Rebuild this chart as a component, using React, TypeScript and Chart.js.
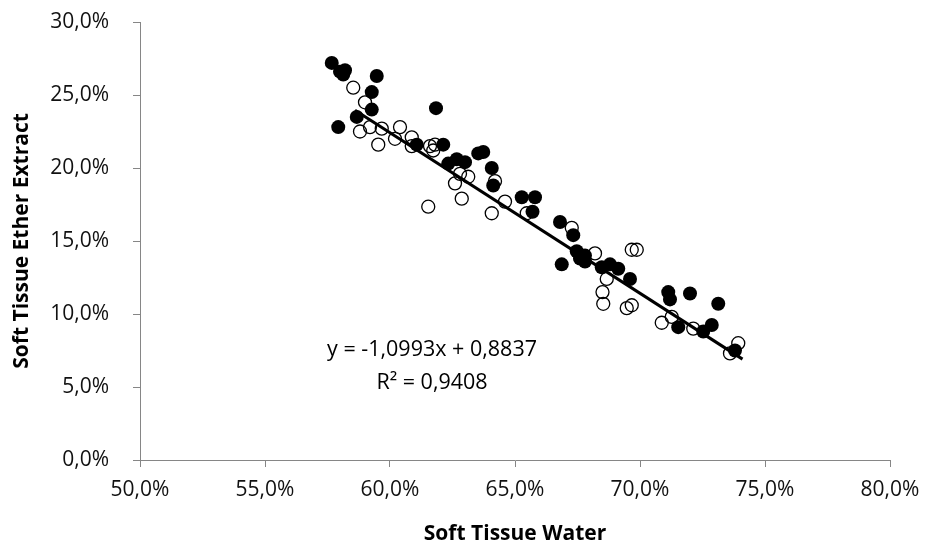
import React, { useEffect, useRef } from "react";
import { Chart, registerables } from "chart.js";
Chart.register(...registerables);

// Filled-circle series (Soft Tissue Water %, Soft Tissue Ether Extract %)
const filledX = [57.67, 58.0, 58.13, 58.2, 59.47, 59.27, 59.27, 61.84, 58.67, 57.93, 61.07, 62.13, 62.33, 62.67, 63.0, 63.53, 63.73, 64.07, 64.13, 65.27, 65.8, 65.7, 66.8, 67.33, 66.87, 67.47, 67.6, 67.8, 67.8, 68.47, 68.8, 69.13, 69.6, 71.13, 71.2, 72.0, 73.13, 71.53, 72.53, 72.87, 73.8];
const filledY = [27.2, 26.6, 26.4, 26.7, 26.3, 25.2, 24.0, 24.1, 23.5, 22.8, 21.6, 21.6, 20.3, 20.6, 20.4, 21.0, 21.1, 20.0, 18.8, 18.0, 18.0, 17.0, 16.3, 15.4, 13.4, 14.3, 13.8, 14.0, 13.6, 13.2, 13.4, 13.1, 12.4, 11.5, 11.0, 11.4, 10.7, 9.1, 8.8, 9.25, 7.5];

// Open-circle series
const openX = [58.53, 59.0, 58.8, 59.2, 59.67, 60.4, 59.53, 60.2, 60.87, 60.87, 61.6, 61.73, 61.8, 62.8, 63.13, 62.6, 62.87, 61.53, 64.07, 64.6, 64.2, 65.47, 67.27, 68.2, 68.67, 68.5, 68.53, 69.47, 69.67, 69.67, 69.87, 70.87, 71.27, 72.13, 73.93, 73.6];
const openY = [25.5, 24.5, 22.5, 22.8, 22.7, 22.8, 21.6, 22.0, 22.1, 21.5, 21.5, 21.2, 21.6, 19.6, 19.4, 18.95, 17.9, 17.35, 16.9, 17.7, 19.1, 16.9, 15.9, 14.15, 12.4, 11.5, 10.7, 10.4, 10.6, 14.4, 14.4, 9.4, 9.8, 9.0, 8.0, 7.3];

// Linear trendline endpoints (fractions)
const trendX = [0.586, 0.741];
const trendY = [0.2395, 0.0691];

const equationLines = ["y = -1,0993x + 0,8837", "R² = 0,9408"];
const xTitle = "Soft Tissue Water";
const yTitle = "Soft Tissue Ether Extract";

const FONT = "'Open Sans', 'Noto Sans', sans-serif";

function fmtPct(v: number) {
  return (v * 100).toFixed(1).replace(".", ",") + "%";
}

export default function App() {
  const ref = useRef<HTMLCanvasElement>(null);
  useEffect(() => {
    document.body.style.margin = "0";
    const ctx = ref.current!.getContext("2d")!;
    const eqPlugin = {
      id: "eq",
      afterDraw(chart: any) {
        const c = chart.ctx;
        const xs = chart.scales.x;
        const ys = chart.scales.y;
        const cx = xs.getPixelForValue(0.6168);
        const cy = ys.getPixelForValue(0.0753);
        c.save();
        c.fillStyle = "#000";
        c.font = `21.5px ${FONT}`;
        c.textAlign = "center";
        c.textBaseline = "middle";
        c.fillText(equationLines[0], cx, cy);
        c.fillText(equationLines[1], cx, cy + 33);
        c.restore();
      },
    };
    const chart = new Chart(ctx, {
      type: "scatter",
      data: {
        datasets: [
          {
            label: "trend",
            type: "line",
            data: trendX.map((x, i) => ({ x, y: trendY[i] })),
            borderColor: "#000",
            borderWidth: 3,
            pointRadius: 0,
            order: 0,
          } as any,
          {
            label: "filled",
            data: filledX.map((x, i) => ({ x: x / 100, y: filledY[i] / 100 })),
            backgroundColor: "#000",
            borderColor: "#000",
            pointRadius: 7,
            borderWidth: 0,
            order: 1,
          },
          {
            label: "open",
            data: openX.map((x, i) => ({ x: x / 100, y: openY[i] / 100 })),
            backgroundColor: "rgba(255,255,255,0)",
            borderColor: "#000",
            pointRadius: 6.5,
            borderWidth: 1.3,
            order: 2,
          },
        ],
      },
      options: {
        animation: false,
        responsive: false,
        layout: { padding: { top: 22, right: 39, left: 0, bottom: 0 } },
        plugins: { legend: { display: false }, tooltip: { enabled: false } },
        scales: {
          x: {
            type: "linear",
            min: 0.5,
            max: 0.8,
            afterFit(s: any) { s.height = 89; s.paddingLeft = 0; s.paddingRight = 0; },
            ticks: {
              stepSize: 0.05,
              callback: (v: any) => fmtPct(Number(v)),
              color: "#111",
              font: { family: FONT, size: 21 },
              padding: 10,
            },
            grid: { drawOnChartArea: false, drawTicks: true, tickLength: 7, color: "#868686" },
            border: { color: "#868686", width: 1 },
            title: {
              display: true,
              text: xTitle,
              color: "#000",
              font: { family: FONT, size: 21, weight: "bold", lineHeight: 1 },
              padding: { top: 0, bottom: 4 },
            },
          },
          y: {
            type: "linear",
            min: 0,
            max: 0.3,
            afterFit(s: any) { s.width = 140; s.paddingTop = 0; s.paddingBottom = 0; },
            ticks: {
              stepSize: 0.05,
              callback: (v: any) => fmtPct(Number(v)),
              color: "#111",
              font: { family: FONT, size: 21 },
              padding: 24,
            },
            grid: { drawOnChartArea: false, drawTicks: true, tickLength: 7, color: "#868686" },
            border: { color: "#868686", width: 1 },
            title: {
              display: true,
              text: yTitle,
              color: "#000",
              font: { family: FONT, size: 21, weight: "bold", lineHeight: 1 },
              padding: { top: 12, bottom: 0 },
            },
          },
        },
      },
      plugins: [eqPlugin],
    } as any);
    return () => chart.destroy();
  }, []);
  return <canvas ref={ref} width={929} height={549} style={{ display: "block" }} />;
}
